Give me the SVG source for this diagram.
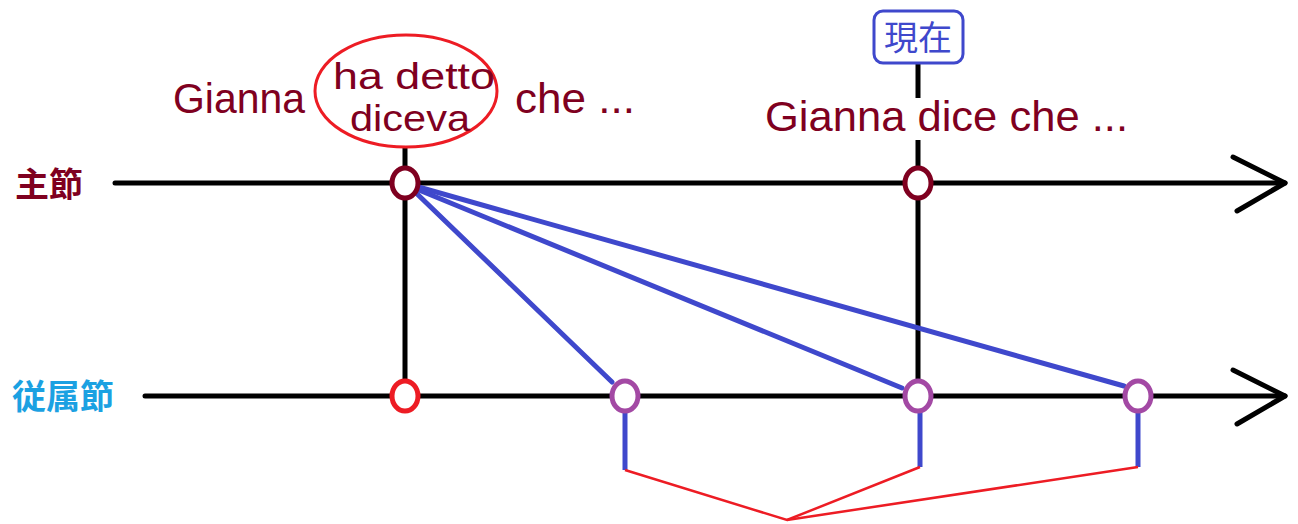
<svg xmlns="http://www.w3.org/2000/svg" width="1298" height="524" viewBox="0 0 1298 524">
  <style>
    .axis { stroke: #000; stroke-width: 5; fill: none; stroke-linecap: round; stroke-linejoin: round; }
    .tick { stroke: #000; stroke-width: 5; fill: none; }
    .link { stroke: #3f48cc; stroke-width: 5; fill: none; stroke-linecap: round; }
    .stub { stroke: #3f48cc; stroke-width: 5; fill: none; }
    .bracket { stroke: #ed1c24; stroke-width: 2.5; fill: none; stroke-linejoin: miter; }
    .pt { fill: #fff; stroke-width: 5; }
    .pt-main { stroke: #7f0020; }
    .pt-red { stroke: #ed1c24; }
    .pt-purple { stroke: #a349a4; }
    .label { font-family: "Noto Sans CJK JP", sans-serif; font-weight: bold; font-size: 34px; }
    .phrase { font-family: "Liberation Sans", Arial, sans-serif; font-size: 42px; fill: #7f0020; }
    .verb { font-family: "Liberation Sans", Arial, sans-serif; font-size: 37px; fill: #7f0020; }
    .now { font-family: "Noto Sans CJK JP", sans-serif; font-size: 34px; fill: #3f48cc; }
  </style>

  <!-- axes -->
  <g id="main-axis">
    <line class="axis" x1="115" y1="183" x2="1285" y2="183"/>
    <polyline class="axis" points="1233,157 1285,183 1237,211"/>
    <text class="label" x="15" y="197" fill="#7f0020">主節</text>
  </g>
  <g id="sub-axis">
    <line class="axis" x1="145" y1="396" x2="1285" y2="396"/>
    <polyline class="axis" points="1233,370 1285,396 1237,424"/>
    <text class="label" x="12" y="409" fill="#1ba1e2">従属節</text>
  </g>

  <!-- connectors -->
  <g id="connectors">
    <line class="tick" x1="405" y1="148" x2="405" y2="396"/>
    <line class="tick" x1="918" y1="64" x2="918" y2="98"/>
    <line class="tick" x1="918" y1="140" x2="918" y2="396"/>
    <line class="link" x1="412" y1="189" x2="612" y2="382"/>
    <line class="link" x1="414" y1="188" x2="902" y2="388"/>
    <line class="link" x1="415" y1="186" x2="1124" y2="386"/>
    <line class="stub" x1="625" y1="412" x2="625" y2="470"/>
    <line class="stub" x1="920" y1="412" x2="920" y2="467"/>
    <line class="stub" x1="1138" y1="412" x2="1138" y2="467"/>
    <polyline class="bracket" points="625,470 787,520 920,467"/>
    <line class="bracket" x1="787" y1="520" x2="1138" y2="467"/>
  </g>

  <!-- past utterance -->
  <g id="past-clause">
    <text class="phrase" x="173" y="113" textLength="132" lengthAdjust="spacingAndGlyphs">Gianna</text>
    <ellipse cx="406" cy="91" rx="91" ry="56" fill="none" stroke="#ed1c24" stroke-width="3"/>
    <text class="verb" x="333" y="89" textLength="162" lengthAdjust="spacingAndGlyphs">ha detto</text>
    <text class="verb" x="350" y="131" textLength="120" lengthAdjust="spacingAndGlyphs">diceva</text>
    <text class="phrase" x="515" y="113" textLength="120" lengthAdjust="spacingAndGlyphs">che ...</text>
  </g>

  <!-- present utterance -->
  <g id="present-clause">
    <rect x="874" y="11" width="89" height="52" rx="9" fill="#fff" stroke="#3f48cc" stroke-width="3"/>
    <text class="now" x="918" y="50" text-anchor="middle">現在</text>
    <text class="phrase" x="765" y="131" textLength="363" lengthAdjust="spacingAndGlyphs">Gianna dice che ...</text>
  </g>

  <!-- time points -->
  <g id="main-past"><ellipse class="pt pt-main" cx="405" cy="183" rx="13" ry="15"/></g>
  <g id="main-now"><ellipse class="pt pt-main" cx="918" cy="183" rx="13" ry="15"/></g>
  <g id="sub-past"><ellipse class="pt pt-red" cx="405" cy="396" rx="13" ry="15"/></g>
  <g id="sub-anterior"><ellipse class="pt pt-purple" cx="625" cy="396" rx="13" ry="15"/></g>
  <g id="sub-simultaneous"><ellipse class="pt pt-purple" cx="918" cy="396" rx="13" ry="15"/></g>
  <g id="sub-posterior"><ellipse class="pt pt-purple" cx="1138" cy="396" rx="13" ry="15"/></g>
</svg>
